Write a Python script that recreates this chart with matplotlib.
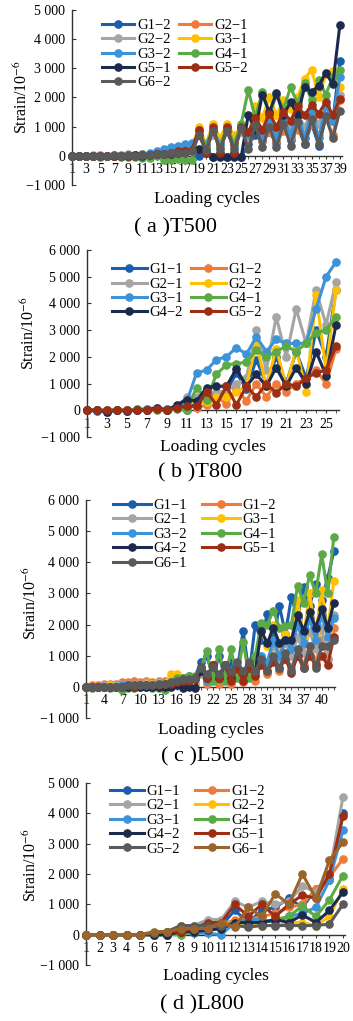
import numpy as np
import matplotlib
matplotlib.use("Agg")
import matplotlib.pyplot as plt
from matplotlib.ticker import FuncFormatter, MultipleLocator, FixedLocator

plt.rcParams['font.family'] = ['Liberation Serif', 'DejaVu Serif']
plt.rcParams['mathtext.fontset'] = 'stix'

# Excel-like palette, used by series position
palette = ['#1A5EAD', '#F07A3A', '#A5A5A5', '#FFC000', '#3D93D8',
           '#5BAA46', '#1C2A4E', '#9C2E16', '#5A5A5A', '#99652C']

# ---------------- (a) T500 : cycles 1..39
a_labels = ['G1−2', 'G2−1', 'G2−2', 'G3−1', 'G3−2', 'G4−1', 'G5−1', 'G5−2', 'G6−2']
a_G1_2 = [0, 0, -20, 0, 0, -20, 0, 0, 20, 0, 0, 20,
          50, 100, 100, 150, 150, 200,
          0, 250, -50, 100, -50, 100, -50,
          400, 700, 500, 800, 450, 900, 550, 1000, 400, 1100, 350, 1300, 1200, 3250]
a_G2_1 = [0, 0, 0, 0, 20, 0, 0, 0, 0, 20, 0, 0,
          50, 50, 100, 100, 100, 150,
          800, 100, 900, 400, 900, 400, 900,
          600, 900, 500, 800, 500, 850, 600, 900, 600, 1100, 700, 1300, 700, 1900]
a_G2_2 = [0, 0, 0, 20, 0, 0, 30, 0, 50, 20, 50, 60,
          100, 150, 200, 200, 250, 250,
          700, 300, 700, 400, 800, 300, 800,
          600, 1200, 800, 1300, 900, 1300, 1000, 1400, 1000, 1500, 1100, 1700, 1300, 2100]
a_G3_1 = [0, 0, 0, 0, 0, 0, 20, 0, 40, 0, 50, 50,
          100, 150, 250, 250, 300, 300,
          1000, 400, 1100, 600, 1100, 700, 1000,
          700, 1700, 1300, 2000, 1400, 1900, 1600, 2000, 2650, 2950, 2000, 2800, 2900, 2350]
a_G3_2 = [0, 0, 0, 0, 0, 0, 0, 20, 30, 30, 50, 80,
          150, 250, 300, 350, 400, 450,
          700, 400, 900, 400, 900, 400, 1000,
          700, 1200, 600, 1300, 600, 1300, 700, 1500, 600, 1600, 600, 1700, 1200, 2700]
a_G4_1 = [0, 0, -20, 0, -30, 0, -20, -30, -50, -50, -60, -80,
          0, -150, -150, -100, -150, -150,
          900, 300, 900, 300, 1000, 400, 1100,
          2250, 1300, 2200, 1400, 2100, 1600, 2350, 1800, 2500, 1900, 2600, 2100, 2700, 2950]
a_G5_1 = [0, 0, 0, 0, 0, 0, 0, 0, 0, 20, 0, 30,
          50, 50, 50, 100, 150, 200,
          250, 100, -50, -50, -50, -50, -50,
          1400, 900, 2100, 1500, 2150, 1400, 1850, 1400, 2350, 2200, 2400, 2850, 2450, 4500]
a_G5_2 = [0, 0, 0, 0, 0, 0, 0, 0, 0, 0, 20, 20,
          50, 50, 100, 150, 150, 200,
          900, 100, 1000, 100, 1000, 100, 1000,
          800, 1300, 900, 1450, 1000, 1500, 1200, 1700, 1400, 1750, 1450, 1850, 1400, 1950]
a_G6_2 = [0, 0, 0, 0, 0, 0, 20, 0, 20, 0, 20, 20,
          50, 50, 100, 100, 100, 150,
          700, 200, 850, 250, 850, 250, 950,
          250, 1050, 300, 1000, 300, 1100, 350, 1150, 400, 1250, 400, 1350, 600, 1550]
a_series = [a_G1_2, a_G2_1, a_G2_2, a_G3_1, a_G3_2, a_G4_1, a_G5_1, a_G5_2, a_G6_2]

# ---------------- (b) T800 : cycles 1..26
b_labels = ['G1−1', 'G1−2', 'G2−1', 'G2−2', 'G3−1', 'G4−1', 'G4−2', 'G5−2']
b_G1_1 = [0, -30, -50, 0, -20, 0, 0, 50, 0, 100,
          0, 300, 500, 600, 700, 1400, 800, 1900, 1000, 2000, 1000, 2200, 1200, 3000, 2000, 4500]
b_G1_2 = [0, 0, -20, 0, 0, 20, 0, 50, 50, 100,
          200, 100, 200, 500, 250, 800, 350, 1000, 500, 1000, 700, 1000, 1200, 1500, 1000, 2300]
b_G2_1 = [0, 0, 0, 20, 0, 50, 50, 100, 50, 100,
          500, 500, 600, 700, 700, 1000, 1200, 3000, 1500, 3500, 2000, 3800, 2500, 4500, 3200, 4800]
b_G2_2 = [0, 20, 0, 0, 20, 0, 0, 50, 0, 100,
          300, 300, 300, 500, 500, 700, 900, 2500, 900, 2300, 900, 2300, 700, 4300, 1500, 4500]
b_G3_1 = [0, 0, 0, 0, 0, 20, 50, 50, 50, 100,
          300, 1400, 1500, 1900, 2000, 2350, 2100, 2750, 2200, 2650, 2500, 2500, 2500, 3800, 5000, 5550]
b_G4_1 = [0, 0, -20, 0, 0, 50, 0, 0, 0, 50,
          0, 850, 400, 1350, 1700, 1750, 1800, 2250, 2000, 2200, 2400, 2200, 2500, 2900, 3000, 3500]
b_G4_2 = [0, 0, -50, 0, -20, 0, 0, 100, 0, 200,
          400, 350, 850, 900, 900, 1550, 900, 1350, 900, 1600, 900, 1600, 1000, 2200, 1300, 3200]
b_G5_2 = [0, 0, 0, 0, 0, 0, 0, 50, 0, 100,
          150, 150, 700, 200, 900, 200, 900, 500, 1000, 650, 1000, 900, 1200, 1400, 1500, 2400]
b_series = [b_G1_1, b_G1_2, b_G2_1, b_G2_2, b_G3_1, b_G4_1, b_G4_2, b_G5_2]

# ---------------- (c) L500 : cycles 1..42
c_labels = ['G1−1', 'G1−2', 'G2−1', 'G3−1', 'G3−2', 'G4−1', 'G4−2', 'G5−1', 'G6−1']
c_G1_1 = [0, 0, 20, 0, 50, 0, 50, 50, 100, 50, 100, 50, 100, 0,
          100, 200, 200, 250, 300,
          800, 1000, 300, 1000, 300, 800, 500, 1800, 400, 2000, 1500, 2350, 1500,
          2600, 1700, 2900, 2200, 3200, 2600, 3300, 2800, 3500, 4350]
c_G1_2 = [0, 50, 50, 100, 100, 100, 150, 150, 200, 150, 200, 150, 200, 200,
          200, 300, 300, 250, 100,
          500, 100, 600, 100, 600, 100, 500, 150, 600, 200, 800, 400, 900,
          500, 1000, 600, 1200, 700, 1300, 800, 1500, 900, 1900]
c_G2_1 = [0, 0, 0, 50, 50, 50, 100, 100, 100, 100, 150, 100, 150, 100,
          200, 250, 250, 300, 250,
          400, 200, 500, 250, 500, 300, 500, 300, 600, 400, 1000, 700, 1300,
          900, 1400, 1000, 1600, 1100, 1800, 1200, 1900, 900, 2300]
c_G3_1 = [0, 0, 0, 0, 50, 0, 50, 50, 50, 50, 100, 100, 100, 100,
          400, 400, 300, 300, 200,
          600, 300, 700, 300, 700, 300, 700, 400, 800, 500, 1800, 1300, 2000,
          1300, 1700, 1500, 2800, 1600, 3000, 1700, 3100, 1800, 3400]
c_G3_2 = [0, 0, 0, 0, 0, 0, 50, 0, 50, 50, 50, 50, 100, 100,
          150, 250, 300, 350, 300,
          500, 200, 600, 250, 600, 250, 500, 300, 700, 400, 1000, 800, 1500,
          1000, 1500, 1200, 2000, 1400, 2200, 1500, 2300, 1600, 2200]
c_G4_1 = [0, -50, 0, 0, -50, 0, -100, -50, -50, 0, 0, -50, -50, -100,
          100, 300, 300, 350, 350,
          600, 1150, 200, 1200, 200, 1200, 300, 1450, 300, 1000, 2050, 2000, 2450,
          1900, 1950, 2000, 3250, 2700, 3600, 3000, 4250, 3000, 4800]
c_G4_2 = [0, 0, 0, 0, 0, 0, 0, 0, 0, 0, 0, 0, 0, 0,
          0, 50, -50, 0, -50,
          500, 300, 700, 300, 700, 300, 600, 400, 700, 500, 1800, 1400, 1900,
          1400, 1500, 1500, 2300, 1800, 2400, 1900, 2500, 1900, 2700]
c_G5_1 = [0, 0, 0, 0, 0, 0, 0, 50, 0, 50, 50, 50, 50, 100,
          100, 150, 200, 200, 250,
          650, 300, 700, 300, 700, 200, 600, 200, 600, 350, 700, 500, 800,
          600, 900, 450, 1000, 600, 1000, 700, 1000, 700, 1600]
c_G6_1 = [0, 0, 0, 0, 0, 0, 0, 50, 50, 50, 50, 50, 100, 100,
          150, 200, 250, 250, 300,
          600, 400, 650, 400, 700, 500, 800, 500, 800, 500, 900, 500, 1000,
          600, 1100, 500, 1200, 600, 1300, 600, 1300, 1300, 1500]
c_series = [c_G1_1, c_G1_2, c_G2_1, c_G3_1, c_G3_2, c_G4_1, c_G4_2, c_G5_1, c_G6_1]

# ---------------- (d) L800 : cycles 1..20
d_labels = ['G1−1', 'G1−2', 'G2−1', 'G2−2', 'G3−1', 'G4−1', 'G4−2', 'G5−1', 'G5−2', 'G6−1']
d_G1_1 = [0, 0, 0, 0, 0, 0, 0, 100, 100, 200, 300, 800, 400, 800, 900, 1200, 900, 1500, 1800, 4000]
d_G1_2 = [0, 0, 0, 0, 0, 0, 50, 100, 100, 150, 300, 500, 500, 600, 700, 900, 1000, 1500, 1900, 2500]
d_G2_1 = [0, 0, 0, 0, 0, 50, 100, 300, 300, 500, 500, 1100, 900, 1100, 1000, 1100, 1600, 1400, 2000, 4550]
d_G2_2 = [0, 0, 0, 0, 0, 0, 0, 50, 100, 150, 200, 400, 300, 300, 300, 400, 400, 300, 600, 1500]
d_G3_1 = [0, 0, 0, 0, 0, 0, 0, 50, 50, 50, 0, 400, 500, 500, 400, 600, 700, 900, 1800, 3450]
d_G4_1 = [0, 0, 0, 0, 0, -20, 0, 0, 100, 200, 200, 400, 400, 400, 500, 600, 950, 600, 1150, 1950]
d_G4_2 = [0, 0, 0, 0, 0, 0, 0, 100, 100, 150, 200, 400, 400, 400, 500, 400, 650, 400, 800, 1400]
d_G5_1 = [0, 0, 0, 0, 0, 50, 100, 100, 200, 400, 400, 1000, 600, 1000, 600, 1000, 1300, 1200, 2000, 3900]
d_G5_2 = [0, 0, 0, 0, 0, 50, 100, 300, 300, 300, 300, 300, 250, 300, 300, 300, 300, 300, 350, 1000]
d_G6_1 = [0, 0, 0, 0, 0, 100, 100, 200, 200, 200, 400, 250, 900, 600, 1350, 1000, 2000, 1200, 2450, 3050]
d_series = [d_G1_1, d_G1_2, d_G2_1, d_G2_2, d_G3_1, d_G4_1, d_G4_2, d_G5_1, d_G5_2, d_G6_1]

W, H = 353, 1021
fig = plt.figure(figsize=(W / 100, H / 100), dpi=100)


def fmt(v, pos):
    s = f"{int(round(abs(v))):,}".replace(",", " ")
    return ("−" + s) if v < 0 else s


def panel(box, series, labels, ymax, xstep, xend, leg, xl_y, title, title_y, yl_xy):
    l, t, r, b = box
    ax = fig.add_axes([l / W, 1 - b / H, (r - l) / W, (b - t) / H])
    n = len(series[0])
    x = np.arange(1, n + 1)
    handles = []
    for i, s in enumerate(series):
        h, = ax.plot(x, s, color=palette[i], lw=2.2, marker='o', ms=5.2,
                     clip_on=False, zorder=3 + i)
        handles.append(h)
    ax.set_xlim(1, xend)
    ax.set_ylim(-1000, ymax)
    for sp in ['top', 'right']:
        ax.spines[sp].set_visible(False)
    ax.spines['bottom'].set_position(('data', 0))
    ax.spines['left'].set_color('#333333')
    ax.spines['bottom'].set_color('#333333')
    ax.spines['left'].set_linewidth(1.0)
    ax.spines['bottom'].set_linewidth(1.0)
    ax.yaxis.set_major_locator(MultipleLocator(1000))
    ax.yaxis.set_major_formatter(FuncFormatter(fmt))
    ax.xaxis.set_major_locator(FixedLocator(list(range(1, n + 1, xstep))))
    ax.xaxis.set_minor_locator(MultipleLocator(1))
    ax.tick_params(axis='y', direction='in', length=3, labelsize=10, pad=5, color='#333333')
    ax.tick_params(axis='x', which='both', direction='out', length=2.5, labelsize=10, pad=3,
                   color='#333333')
    # legend filled row by row
    order = list(range(0, len(handles), 2)) + list(range(1, len(handles), 2))
    lx, ly, hl, cs = leg
    ax.legend([handles[k] for k in order], [labels[k] for k in order], ncol=2,
              loc='upper left', bbox_to_anchor=(lx, ly), frameon=False,
              fontsize=10.5, handlelength=hl, handletextpad=0.2, columnspacing=cs,
              labelspacing=0.08, borderpad=0, borderaxespad=0, numpoints=1)
    cx = (l + r) / 2
    fig.text(cx / W, 1 - xl_y / H, 'Loading cycles', ha='center', va='center', fontsize=12.5)
    fig.text(title_y[0] / W, 1 - title_y[1] / H, title, ha='center', va='center', fontsize=16)
    fig.text(yl_xy[0] / W, 1 - yl_xy[1] / H, r'Strain/10$^{-6}$', ha='center', va='center',
             rotation=90, fontsize=11.5)
    return ax


panel((72, 10, 342, 185), a_series, a_labels, 5000, 2, 39.3,
      (0.111, 0.95, 2.2, 0.6), 199, '( a )T500', (175, 228), (22, 97))
panel((87, 250, 339, 437), b_series, b_labels, 6000, 2, 26.3,
      (0.099, 0.93, 2.4, 0.5), 447, '( b )T800', (200, 473), (29, 333))
panel((86, 500, 335, 718), c_series, c_labels, 6000, 3, 42.2,
      (0.108, 1.005, 2.6, 1.0), 730, '( c )L500', (202, 757), (31, 603))
panel((86, 783, 345, 965), d_series, d_labels, 5000, 1, 20.15,
      (0.093, 0.99, 2.3, 1.0), 976, '( d )L800', (202, 1005), (31, 865))

fig.savefig('out.png', dpi=100)
